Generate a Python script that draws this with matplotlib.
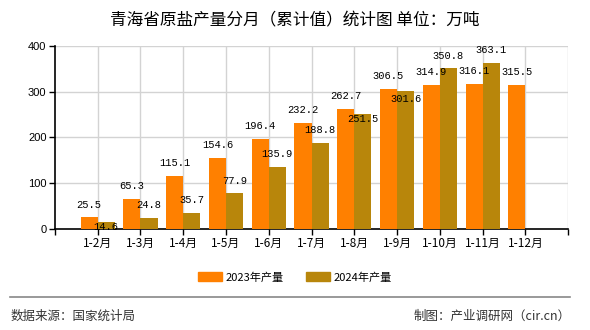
import numpy as np
import matplotlib
matplotlib.use('Agg')
import matplotlib.pyplot as plt
from matplotlib.patches import Patch

plt.rcParams['font.family'] = ['Noto Sans CJK SC', 'DejaVu Sans']

months = ['1-2月', '1-3月', '1-4月', '1-5月', '1-6月', '1-7月', '1-8月',
          '1-9月', '1-10月', '1-11月', '1-12月']
y2023 = [25.5, 65.3, 115.1, 154.6, 196.4, 232.2, 262.7, 306.5, 314.9, 316.1, 315.5]
y2024 = [14.6, 24.8, 35.7, 77.9, 135.9, 188.8, 251.5, 301.6, 350.8, 363.1]
yticks = [0, 100, 200, 300, 400]

c2023 = '#FF8000'
c2024 = '#B8860B'

fig = plt.figure(figsize=(5.9, 3.3), dpi=100)
ax = fig.add_axes([0.093, 0.306, 0.870, 0.555])

x = np.arange(1, len(months) + 1)
w = 0.4
ax.bar(x[:len(y2023)] - w / 2, y2023, width=w, color=c2023, zorder=3)
ax.bar(x[:len(y2024)] + w / 2, y2024, width=w, color=c2024, zorder=3)

# value labels, 2024 label moved under the 2023 one when they would collide
lab = dict(ha='center', va='center', fontsize=7.5, family=['Liberation Mono', 'DejaVu Sans Mono'], zorder=5)
off = 28
lab23 = []
for xi, v in zip(x, y2023):
    ax.text(xi - w / 2, v + off, '{:.1f}'.format(v), **lab)
    lab23.append(v + off)
for i, (xi, v) in enumerate(zip(x, y2024)):
    yl = v + off
    if abs(yl - lab23[i]) < 22:
        yl = lab23[i] - 50
    ax.text(xi + w / 2, yl, '{:.1f}'.format(v), **lab)

ax.set_xlim(0, len(months) + 1)
ax.set_ylim(0, 400)
ax.set_yticks(yticks)
ax.set_yticklabels([str(t) for t in yticks], fontsize=8, family=['Liberation Sans'])
ax.set_xticks(np.arange(0, len(months) + 2))
ax.set_xticklabels([''] + months + [''], fontsize=8.5)
ax.tick_params(axis='both', length=4, width=1, color='black', pad=2)

# grid
for xi in np.arange(1, len(months) + 2):
    ax.axvline(xi, color='#D3D3D3', lw=1, zorder=1)
for yt in yticks[1:]:
    ax.axhline(yt, color='#D3D3D3', lw=1, zorder=1)

for s in ['top', 'right']:
    ax.spines[s].set_visible(False)
ax.spines['left'].set_linewidth(1.2)
ax.spines['bottom'].set_linewidth(1.2)

fig.text(0.5, 0.936, '青海省原盐产量分月（累计值）统计图 单位：万吨', ha='center', va='center', fontsize=12)

handles = [Patch(color=c2023, label='2023年产量'), Patch(color=c2024, label='2024年产量')]
fig.legend(handles=handles, loc='center', bbox_to_anchor=(0.5, 0.16), ncol=2, frameon=False,
           fontsize=8, handlelength=2.2, handleheight=0.9, columnspacing=2.0, handletextpad=0.3)

fig.add_artist(plt.Line2D([0.017, 0.966], [0.1, 0.1], color='#888888', lw=1.2))
fig.text(0.018, 0.042, '数据来源：国家统计局', ha='left', va='center', fontsize=9, color='#333333')
fig.text(0.968, 0.042, '制图：产业调研网（cir.cn）', ha='right', va='center', fontsize=9, color='#333333')

fig.savefig('out.png', dpi=100)
